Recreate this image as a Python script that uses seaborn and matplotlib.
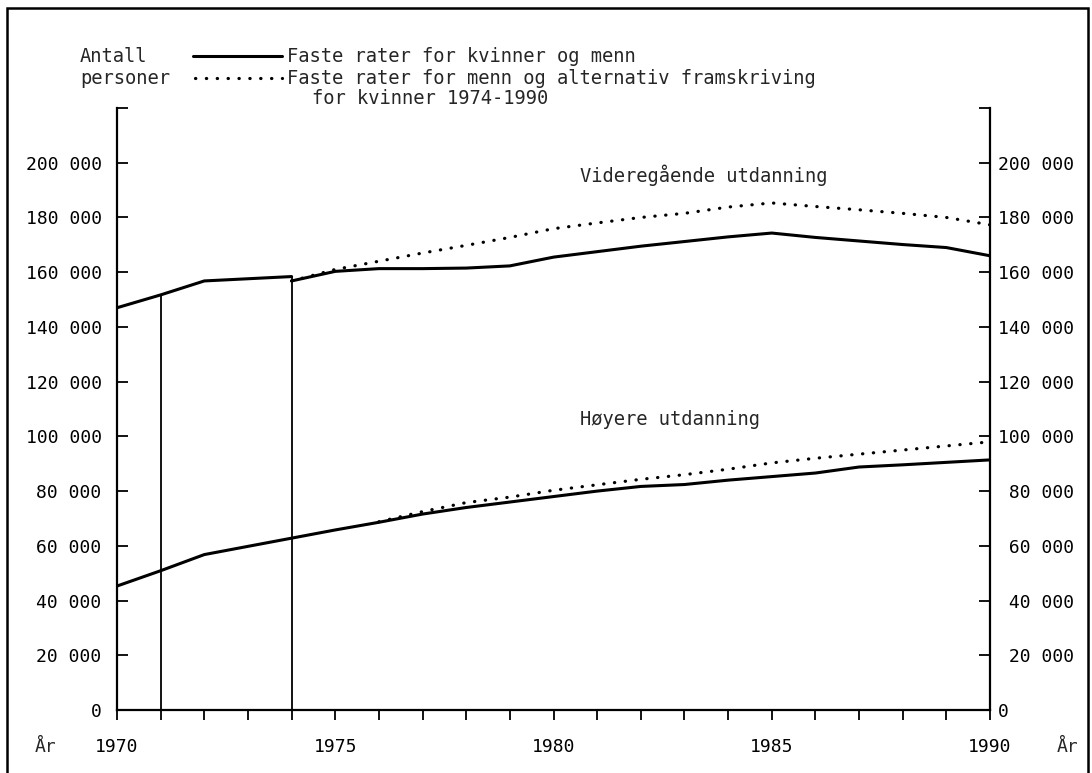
import matplotlib
matplotlib.use("Agg")
import matplotlib.pyplot as plt
import seaborn as sns
from matplotlib.lines import Line2D
from matplotlib.patches import Rectangle

# Videregaende utdanning, faste rater (step at 1974)
years_a = [1970, 1971, 1972, 1973, 1974]
vgs_fixed_a = [147000, 151700, 156800, 157600, 158400]
years_b = list(range(1974, 1991))
vgs_fixed_b = [156800, 160300, 161300, 161300, 161500, 162300, 165500, 167500, 169500,
               171200, 172900, 174300, 172700, 171400, 170100, 169000, 166000]
# Videregaende utdanning, alternativ framskriving for kvinner
vgs_alt = [156800, 161000, 164000, 167000, 169800, 172700, 175900, 178000, 180000,
           181500, 183800, 185300, 184000, 182800, 181500, 180000, 177300]

# Hoyere utdanning
years_hoy = list(range(1970, 1991))
hoy_fixed = [45300, 50900, 56800, 59800, 62800, 65800, 68600, 71600, 74000, 76000, 78000,
             80000, 81700, 82400, 84000, 85300, 86600, 88800, 89600, 90500, 91400]
years_hoy_alt = list(range(1976, 1991))
hoy_alt = [68800, 72500, 75800, 77800, 80300, 82300, 84300, 86000, 88000, 90300, 92000,
           93500, 95000, 96500, 98000]

# vertical marker lines
marker_years = [1971, 1974]
marker_tops = [151700, 158400]

yticks = list(range(0, 220001, 20000))
left_labels = ["0"] + [f"{v // 1000} 000" for v in yticks[1:-1]] + [""]
right_labels = ["0"] + [f"{v // 1000:>3} 000" for v in yticks[1:-1]] + [""]
xticks = list(range(1970, 1991))
xlabels = [str(y) if y % 5 == 0 else "" for y in xticks]

sns.set_theme(style="white")
plt.rcParams["font.family"] = ["DejaVu Sans Mono", "DejaVu Sans"]
plt.rcParams["font.size"] = 13

W, H = 1092, 773
fig = plt.figure(figsize=(W / 100, H / 100), dpi=100)
ax = fig.add_axes([117 / W, 1 - 710 / H, (990 - 117) / W, (710 - 108) / H])

dot_style = (0, (0.1, 3.3))
solid = dict(color="black", lw=2.2, solid_joinstyle="miter")
dotted = dict(color="black", lw=2.3, linestyle=dot_style, dash_capstyle="round")

sns.lineplot(x=years_a, y=vgs_fixed_a, ax=ax, **solid)
sns.lineplot(x=years_b, y=vgs_fixed_b, ax=ax, **solid)
sns.lineplot(x=years_b, y=vgs_alt, ax=ax, **dotted)
sns.lineplot(x=years_hoy, y=hoy_fixed, ax=ax, **solid)
sns.lineplot(x=years_hoy_alt, y=hoy_alt, ax=ax, **dotted)
ax.vlines(marker_years, 0, marker_tops, color="black", lw=1.3)

ax.set_xlim(1970, 1990)
ax.set_ylim(0, 220000)
ax.set_xticks(xticks)
ax.set_xticklabels(xlabels)
ax.set_yticks(yticks)
ax.set_yticklabels(left_labels)
ax.set_xlabel("")
ax.set_ylabel("")

for s in ["left", "right", "bottom"]:
    ax.spines[s].set_color("black")
    ax.spines[s].set_linewidth(1.6)
ax.spines["top"].set_visible(False)
ax.tick_params(axis="x", direction="out", length=7, width=1.3, pad=13,
               colors="black", bottom=True, labelsize=13)
ax.tick_params(axis="y", direction="in", length=8, width=1.3, pad=11,
               colors="black", left=True, labelsize=13)

ax2 = ax.twinx()
ax2.set_ylim(0, 220000)
ax2.set_yticks(yticks)
ax2.set_yticklabels(right_labels)
ax2.tick_params(axis="y", direction="in", length=8, width=1.3, pad=6,
                colors="black", right=True, labelsize=13)
for s in ["left", "right", "bottom", "top"]:
    ax2.spines[s].set_visible(False)
ax2.grid(False)
ax.grid(False)

# series labels
ax.text(1980.6, 195300, "Videregående utdanning", fontsize=13.5, va="center")
ax.text(1980.6, 106000, "Høyere utdanning", fontsize=13.5, va="center")

# axis unit labels
fig.text(35 / W, 1 - 747 / H, "År", fontsize=13, va="center")
fig.text(1057 / W, 1 - 747 / H, "År", fontsize=13, va="center")

# legend block
fig.text(80 / W, 1 - 56 / H, "Antall", fontsize=13.5, va="center")
fig.text(80 / W, 1 - 78 / H, "personer", fontsize=13.5, va="center")
fig.add_artist(Line2D([193 / W, 282 / W], [1 - 56 / H, 1 - 56 / H],
                      transform=fig.transFigure, color="black", lw=2.2))
fig.add_artist(Line2D([195 / W, 282 / W], [1 - 78 / H, 1 - 78 / H],
                      transform=fig.transFigure, color="black", lw=2.3,
                      linestyle=dot_style, dash_capstyle="round"))
fig.text(287 / W, 1 - 56 / H, "Faste rater for kvinner og menn", fontsize=13.5, va="center")
fig.text(287 / W, 1 - 78 / H, "Faste rater for menn og alternativ framskriving",
         fontsize=13.5, va="center")
fig.text(312 / W, 1 - 98 / H, "for kvinner 1974-1990", fontsize=13.5, va="center")

# outer frame
fig.add_artist(Rectangle((7 / W, -0.05), (1088 - 7) / W, 1.05 - 8 / H,
                         transform=fig.transFigure, fill=False, edgecolor="black", lw=1.8))

fig.savefig("out.png", dpi=100, facecolor="white")
